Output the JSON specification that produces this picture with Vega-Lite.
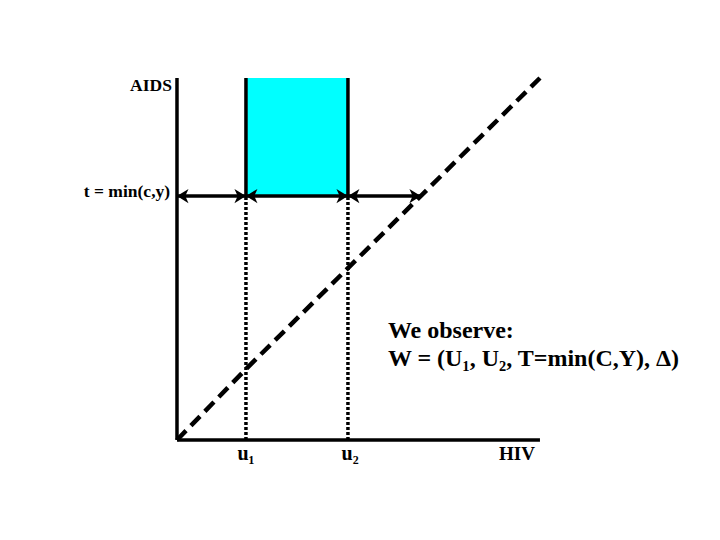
{
  "$schema": "https://vega.github.io/schema/vega-lite/v6.json",
  "width": 720,
  "height": 540,
  "autosize": {"type": "fit", "contains": "padding"},
  "padding": 0,
  "background": "white",
  "config": {"view": {"stroke": null}},
  "datasets": {
    "box": [{"x": 1.9, "x2": 4.71, "y": 6.74, "y2": 10}],
    "solid": [
      {"x": 0, "y": 0, "x2": 0, "y2": 10},
      {"x": 0, "y": 0, "x2": 10, "y2": 0},
      {"x": 1.9, "y": 6.74, "x2": 1.9, "y2": 10},
      {"x": 4.71, "y": 6.74, "x2": 4.71, "y2": 10},
      {"x": 0, "y": 6.74, "x2": 6.72, "y2": 6.74}
    ],
    "dotted": [
      {"x": 1.9, "y": 0, "x2": 1.9, "y2": 6.74},
      {"x": 4.71, "y": 0, "x2": 4.71, "y2": 6.74}
    ],
    "diag": [
      {"x": 0, "y": 0},
      {"x": 1.9, "y": 1.96},
      {"x": 10, "y": 10}
    ],
    "headsLeft": [{"x": 0, "y": 6.74}, {"x": 1.9, "y": 6.74}, {"x": 4.71, "y": 6.74}],
    "headsRight": [{"x": 1.9, "y": 6.74}, {"x": 4.71, "y": 6.74}, {"x": 6.72, "y": 6.74}],
    "labelsAxis": [
      {"label": "AIDS", "x": -0.14, "y": 9.64},
      {"label": "t = min(c,y)", "x": -0.19, "y": 6.71}
    ],
    "labelsHIV": [
      {"label": "HIV", "x": 9.86, "y": -0.55}
    ],
    "labelsCenter": [
      {"label": "u₁", "x": 1.9, "y": -0.55},
      {"label": "u₂", "x": 4.77, "y": -0.55}
    ],
    "labelsLeft": [
      {"label": "We observe:", "x": 5.81, "y": 2.82},
      {"label": "W = (U₁, U₂, T=min(C,Y), Δ)", "x": 5.81, "y": 2.04}
    ]
  },
  "encoding": {
    "x": {"field": "x", "type": "quantitative", "scale": {"domain": [-4.876, 14.96], "nice": false, "zero": false}, "axis": null},
    "y": {"field": "y", "type": "quantitative", "scale": {"domain": [-2.762, 12.155], "nice": false, "zero": false}, "axis": null}
  },
  "layer": [
    {
      "data": {"name": "box"},
      "mark": {"type": "rect", "fill": "#00FFFF", "stroke": null},
      "encoding": {"x2": {"field": "x2"}, "y2": {"field": "y2"}}
    },
    {
      "data": {"name": "dotted"},
      "mark": {"type": "rule", "color": "black", "strokeWidth": 3.5, "strokeDash": [3, 2]},
      "encoding": {"x2": {"field": "x2"}, "y2": {"field": "y2"}}
    },
    {
      "data": {"name": "diag"},
      "mark": {"type": "line", "color": "black", "strokeWidth": 4.5, "strokeDash": [13, 7]},
      "encoding": {}
    },
    {
      "data": {"name": "solid"},
      "mark": {"type": "rule", "color": "black", "strokeWidth": 3.5},
      "encoding": {"x2": {"field": "x2"}, "y2": {"field": "y2"}}
    },
    {
      "data": {"name": "headsLeft"},
      "mark": {"type": "point", "shape": "M0,0L1,-0.62L0.72,0L1,0.62Z", "size": 530, "filled": true, "color": "black", "opacity": 1},
      "encoding": {}
    },
    {
      "data": {"name": "headsRight"},
      "mark": {"type": "point", "shape": "M0,0L-1,-0.62L-0.72,0L-1,0.62Z", "size": 530, "filled": true, "color": "black", "opacity": 1},
      "encoding": {}
    },
    {
      "data": {"name": "labelsAxis"},
      "mark": {"type": "text", "align": "right", "baseline": "alphabetic", "font": "Liberation Serif", "fontWeight": "bold", "fontSize": 17.5, "color": "black"},
      "encoding": {"text": {"field": "label"}}
    },
    {
      "data": {"name": "labelsHIV"},
      "mark": {"type": "text", "align": "right", "baseline": "alphabetic", "font": "Liberation Serif", "fontWeight": "bold", "fontSize": 19, "color": "black"},
      "encoding": {"text": {"field": "label"}}
    },
    {
      "data": {"name": "labelsCenter"},
      "mark": {"type": "text", "align": "center", "baseline": "alphabetic", "font": "Liberation Serif", "fontWeight": "bold", "fontSize": 20, "color": "black"},
      "encoding": {"text": {"field": "label"}}
    },
    {
      "data": {"name": "labelsLeft"},
      "mark": {"type": "text", "align": "left", "baseline": "alphabetic", "font": "Liberation Serif", "fontWeight": "bold", "fontSize": 24, "color": "black"},
      "encoding": {"text": {"field": "label"}}
    }
  ]
}
